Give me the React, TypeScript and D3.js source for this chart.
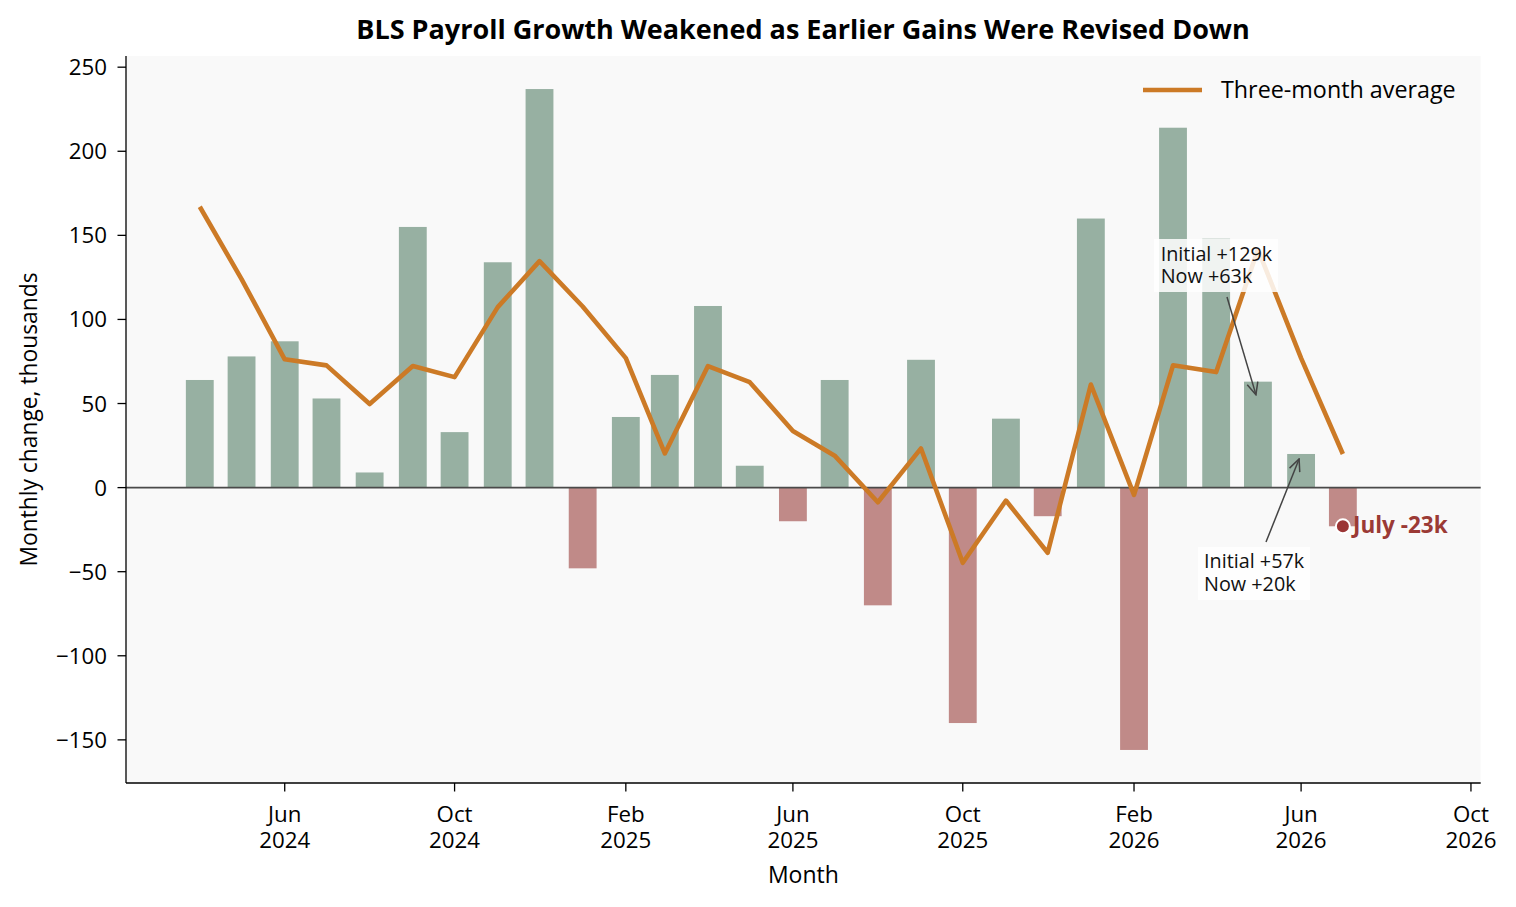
import React from "react";
import * as d3 from "d3";

const months = [
  "2024-04", "2024-05", "2024-06", "2024-07", "2024-08", "2024-09", "2024-10", "2024-11", "2024-12",
  "2025-01", "2025-02", "2025-03", "2025-04", "2025-05", "2025-06", "2025-07", "2025-08", "2025-09",
  "2025-10", "2025-11", "2025-12", "2026-01", "2026-02", "2026-03", "2026-04", "2026-05", "2026-06", "2026-07",
];
const payrollChange = [
  64, 78, 87, 53, 9, 155, 33, 134, 237,
  -48, 42, 67, 108, 13, -20, 64, -70, 76,
  -140, 41, -17, 160, -156, 214, 148, 63, 20, -23,
];
const threeMonthAvg = [
  167, 124, 76.3, 72.7, 49.7, 72.3, 65.7, 107.3, 134.7,
  107.7, 77, 20.3, 72.3, 62.7, 33.7, 19, -8.7, 23.3,
  -44.7, -7.7, -38.7, 61.3, -4.3, 72.7, 68.7, 141.7, 77, 20,
];
const yTicks = [-150, -100, -50, 0, 50, 100, 150, 200, 250];
const xTickMonths = ["2024-06", "2024-10", "2025-02", "2025-06", "2025-10", "2026-02", "2026-06", "2026-10"];
const xDomain = ["2024-02-08", "2026-10-08"];
const yDomain = [-175.65, 256.65];

const annotations = [
  { month: "2026-05", lines: ["Initial +129k", "Now +63k"] },
  { month: "2026-06", lines: ["Initial +57k", "Now +20k"] },
];
const latestLabel = "July -23k";

const W = 1516;
const H = 907;
const M = { left: 126, right: 1480.7, top: 56, bottom: 783 };
const FONT = "'Open Sans', 'Noto Sans', sans-serif";

const parse = d3.utcParse("%Y-%m");
const parseDay = d3.utcParse("%Y-%m-%d");

export default function App() {
  const x = d3
    .scaleUtc()
    .domain(xDomain.map((d) => parseDay(d) as Date))
    .range([M.left, M.right]);
  const y = d3.scaleLinear().domain(yDomain).range([M.bottom, M.top]);

  const dates = months.map((m) => parse(m) as Date);
  const barW = x(d3.utcDay.offset(dates[0], 20)) - x(dates[0]);

  const line = d3
    .line<number>()
    .x((_, i) => x(dates[i]))
    .y((v) => y(v));

  const fmtMon = d3.utcFormat("%b");
  const fmtYear = d3.utcFormat("%Y");

  const green = "#97b0a2";
  const red = "#c08a88";
  const orange = "#cc7a26";
  const dark = "#444444";

  const a1 = annotations[0];
  const a2 = annotations[1];
  const i1 = months.indexOf(a1.month);
  const i2 = months.indexOf(a2.month);
  const iLast = months.length - 1;

  const ann1 = { x: 1160.7, y: 260.7, box: [1154, 239, 124, 53] };
  const ann2 = { x: 1204, y: 568.3, box: [1198, 547, 112, 53] };
  const tip1 = { x: x(dates[i1]) - 2, y: y(payrollChange[i1]) + 13 };
  const tip2 = { x: x(dates[i2]) - 2, y: y(payrollChange[i2]) + 5 };

  return (
    <div style={{ position: "absolute", left: 0, top: 0 }}>
      <svg width={W} height={H} style={{ display: "block", background: "#ffffff" }} fontFamily={FONT}>
        <defs>
          <marker
            id="arrowhead"
            viewBox="0 0 14 14"
            refX="13"
            refY="7"
            markerWidth="14"
            markerHeight="14"
            markerUnits="userSpaceOnUse"
            orient="auto"
          >
            <path d="M1,1.5 L13,7 L1,12.5" fill="none" stroke={dark} strokeWidth={1.5} />
          </marker>
        </defs>
        <rect x={M.left} y={M.top} width={M.right - M.left} height={M.bottom - M.top} fill="#f9f9f9" />

        {/* bars */}
        {payrollChange.map((v, i) => (
          <rect
            key={months[i]}
            x={x(dates[i]) - barW / 2}
            y={Math.min(y(v), y(0))}
            width={barW}
            height={Math.abs(y(v) - y(0))}
            fill={v >= 0 ? green : red}
          />
        ))}

        {/* zero line */}
        <line x1={M.left} x2={M.right} y1={y(0)} y2={y(0)} stroke="#4a4a4a" strokeWidth={1.6} />

        {/* three-month average */}
        <path
          d={line(threeMonthAvg) || ""}
          fill="none"
          stroke={orange}
          strokeWidth={4.6}
          strokeLinejoin="round"
          strokeLinecap="butt"
        />

        {/* annotation boxes */}
        <rect x={ann1.box[0]} y={ann1.box[1]} width={ann1.box[2]} height={ann1.box[3]} fill="#ffffff" fillOpacity={0.85} />
        <rect x={ann2.box[0]} y={ann2.box[1]} width={ann2.box[2]} height={ann2.box[3]} fill="#ffffff" fillOpacity={0.85} />

        <line x1={1227} y1={297} x2={tip1.x} y2={tip1.y} stroke={dark} strokeWidth={1.5} markerEnd="url(#arrowhead)" />
        <line x1={1266} y1={542} x2={tip2.x} y2={tip2.y} stroke={dark} strokeWidth={1.5} markerEnd="url(#arrowhead)" />

        <text x={ann1.x} y={ann1.y} fontSize={19.8} fill="#111">
          {a1.lines.map((l, k) => (
            <tspan key={k} x={ann1.x} dy={k === 0 ? 0 : 22.6}>
              {l}
            </tspan>
          ))}
        </text>
        <text x={ann2.x} y={ann2.y} fontSize={19.8} fill="#111">
          {a2.lines.map((l, k) => (
            <tspan key={k} x={ann2.x} dy={k === 0 ? 0 : 22.6}>
              {l}
            </tspan>
          ))}
        </text>

        {/* latest marker */}
        <circle cx={x(dates[iLast])} cy={y(payrollChange[iLast])} r={7} fill="#9b3535" stroke="#ffffff" strokeWidth={2} />
        <text x={1353} y={533.3} fontSize={22.5} fontWeight="bold" fill="#9b3a35">
          {latestLabel}
        </text>

        {/* spines */}
        <line x1={M.left} x2={M.left} y1={M.top} y2={M.bottom} stroke="#000" strokeWidth={1.3} />
        <line x1={M.left} x2={M.right} y1={M.bottom} y2={M.bottom} stroke="#000" strokeWidth={1.3} />

        {/* y ticks */}
        {yTicks.map((t) => (
          <g key={t}>
            <line x1={M.left - 8.5} x2={M.left} y1={y(t)} y2={y(t)} stroke="#000" strokeWidth={1.3} />
            <text x={107} y={y(t)} dy="0.36em" textAnchor="end" fontSize={22.3} fill="#000">
              {t < 0 ? "\u2212" + Math.abs(t) : String(t)}
            </text>
          </g>
        ))}

        {/* x ticks */}
        {xTickMonths.map((m) => {
          const d = parse(m) as Date;
          const px = x(d);
          return (
            <g key={m}>
              <line x1={px} x2={px} y1={M.bottom} y2={M.bottom + 8.5} stroke="#000" strokeWidth={1.3} />
              <text x={px} y={821.7} textAnchor="middle" fontSize={22.3} fill="#000">
                <tspan x={px} dy={0}>
                  {fmtMon(d)}
                </tspan>
                <tspan x={px} dy={26.3}>
                  {fmtYear(d)}
                </tspan>
              </text>
            </g>
          );
        })}

        {/* axis labels */}
        <text x={(M.left + M.right) / 2} y={883} textAnchor="middle" fontSize={23} fill="#000">
          Month
        </text>
        <text
          transform={`translate(36.5, ${(M.top + M.bottom) / 2}) rotate(-90)`}
          textAnchor="middle"
          fontSize={22.8}
          fill="#000"
        >
          Monthly change, thousands
        </text>

        {/* title */}
        <text x={803} y={39.3} textAnchor="middle" fontSize={27} fontWeight="bold" fill="#000">
          BLS Payroll Growth Weakened as Earlier Gains Were Revised Down
        </text>

        {/* legend */}
        <line x1={1143} x2={1202} y1={90} y2={90} stroke={orange} strokeWidth={4.6} />
        <text x={1221} y={90} dy="0.36em" fontSize={23.3} fill="#000">
          Three-month average
        </text>
      </svg>
    </div>
  );
}
